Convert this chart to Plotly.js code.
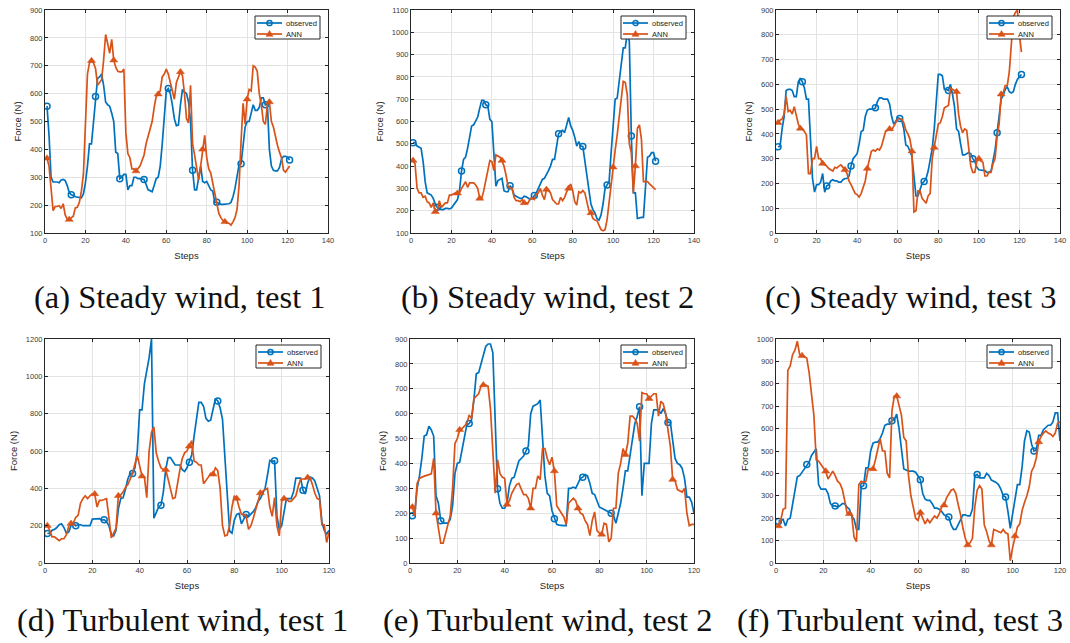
<!DOCTYPE html>
<html>
<head>
<meta charset="utf-8">
<script src="https://cdn.plot.ly/plotly-3.0.1.min.js"></script>
<style>
html,body{margin:0;padding:0;background:#fff;}
#chart{width:1070px;height:643px;}
</style>
</head>
<body>
<div id="chart"></div>
<script>
// ---------- Data (Force in N, per step) ----------
const seriesNames = ["observed", "ANN"];
const captions = [
  "(a) Steady wind, test 1", "(b) Steady wind, test 2", "(c) Steady wind, test 3",
  "(d) Turbulent wind, test 1", "(e) Turbulent wind, test 2", "(f) Turbulent wind, test 3"
];

const obsA = [555,450,300,283,283,283,280,290,292,288,270,245,237,235,230,228,226,226,240,280,340,420,420,500,590,655,660,670,630,570,560,555,530,500,390,385,295,300,310,310,255,270,270,300,300,295,295,293,292,275,255,252,248,270,295,300,340,420,520,610,618,600,560,510,485,487,560,615,605,600,570,500,325,255,255,300,340,285,280,285,270,255,250,210,210,205,203,203,203,203,205,210,230,260,300,345,348,420,480,500,500,530,560,540,540,550,585,585,560,565,400,340,325,323,323,335,365,375,375,372,362];
const annA = [368,340,260,180,195,195,198,188,205,165,150,148,155,160,190,192,210,250,310,480,670,710,718,710,690,630,640,650,720,812,780,745,795,720,695,680,678,678,688,460,385,370,330,330,322,330,340,360,380,420,450,480,500,550,590,598,610,660,670,688,670,640,610,580,640,660,678,665,600,510,495,630,420,380,330,290,340,400,450,370,330,315,280,240,200,170,155,145,140,135,135,128,140,155,185,270,430,565,490,580,615,610,700,695,680,600,560,500,490,560,570,500,480,440,415,390,370,325,318,330,340];

const obsB = [505,505,490,485,480,420,330,280,275,270,255,230,215,210,205,205,210,210,208,212,225,240,250,290,378,430,440,480,540,580,585,600,620,660,695,695,675,670,610,600,430,310,335,340,345,290,285,285,312,300,270,265,260,255,255,265,262,255,250,255,268,280,300,320,340,345,360,380,400,430,430,480,545,555,560,550,580,618,580,560,530,490,510,490,488,420,350,280,230,205,190,165,158,180,230,300,315,330,460,600,700,705,780,860,930,930,1000,960,535,280,280,165,168,170,170,310,440,445,460,460,422];
const annB = [425,410,300,280,280,260,265,240,235,215,235,195,200,245,215,225,235,235,270,270,275,280,278,280,300,315,330,305,325,325,325,315,300,255,255,290,330,375,425,420,380,450,445,440,425,400,360,310,300,300,260,245,245,240,250,235,235,235,255,255,250,275,280,300,270,250,295,290,280,250,240,230,230,260,245,260,285,300,320,290,240,225,285,280,290,280,240,200,190,165,158,155,135,115,110,115,160,240,330,395,470,540,620,700,780,775,720,500,460,280,400,570,585,520,330,330,330,320,310,300,295];

const obsC = [348,350,420,470,575,580,580,575,550,550,610,625,610,585,540,540,380,220,165,195,195,205,240,165,190,195,210,215,210,210,205,205,215,220,220,230,270,300,310,320,360,410,415,470,495,500,500,500,505,530,545,545,540,540,540,520,470,440,450,465,462,455,420,355,350,330,310,230,150,150,175,200,208,220,250,300,340,420,550,640,640,635,580,580,575,600,560,510,420,410,360,315,315,320,325,320,300,290,265,255,255,252,252,245,245,250,300,335,405,480,540,555,580,590,570,565,570,600,620,630,640];
const annC = [445,455,460,480,550,490,495,480,510,470,440,422,420,410,395,240,240,300,300,350,300,300,280,275,270,260,255,250,265,262,270,275,265,255,240,210,195,175,160,155,145,160,185,210,260,300,330,335,330,340,335,350,380,410,415,420,415,430,445,460,460,460,445,415,400,380,330,85,90,170,170,140,130,120,150,160,300,345,400,440,445,470,505,510,515,585,580,575,570,480,430,405,420,415,340,270,245,245,290,300,290,285,230,230,245,245,280,300,390,440,560,565,595,595,650,760,870,890,900,800,730];

const obsD = [158,160,175,180,190,205,210,190,160,165,200,210,200,205,205,200,200,200,200,235,235,235,238,230,232,220,200,155,145,175,290,345,350,395,450,480,480,510,600,820,820,960,1030,1100,1200,240,270,300,310,380,500,565,565,545,525,525,525,500,490,510,540,580,680,780,860,860,840,775,760,765,820,880,868,830,770,560,340,170,160,230,260,265,210,235,260,250,260,275,295,330,345,375,400,470,550,545,548,250,180,200,280,345,345,345,380,455,455,455,390,370,430,460,455,440,400,360,220,175,155,175];
const annD = [200,175,140,140,130,120,130,130,150,195,212,215,245,255,320,345,360,345,360,370,370,300,335,335,340,345,245,135,160,185,360,365,380,405,420,450,480,530,575,520,465,460,350,600,700,730,590,545,510,500,500,450,400,345,350,430,500,560,590,600,625,655,545,540,525,525,425,440,460,480,475,510,495,400,200,145,150,200,300,360,345,300,260,260,250,180,200,240,285,340,375,385,395,400,300,250,350,200,145,330,345,345,330,330,345,360,410,450,450,450,458,455,420,375,345,340,205,205,110,165];

const obsE = [190,195,300,350,420,510,515,550,535,510,270,240,170,160,160,160,175,230,360,400,405,460,500,555,560,575,655,760,765,800,840,870,880,880,845,580,298,240,220,220,240,310,340,345,380,410,420,430,450,470,600,630,635,640,655,500,350,280,270,210,178,155,152,150,150,150,300,300,305,300,320,340,345,355,350,320,280,275,250,225,220,215,212,208,200,190,160,200,240,300,370,370,430,500,560,590,628,270,400,400,400,560,615,615,615,600,620,600,565,565,490,420,400,395,380,340,265,265,245,200];
const annE = [225,190,320,340,345,350,352,355,358,420,200,140,80,80,120,160,190,300,480,500,535,540,550,560,595,580,660,670,680,710,715,715,710,620,450,280,415,360,345,340,235,250,280,300,315,320,300,275,275,260,220,300,300,350,335,460,460,420,395,425,370,230,215,200,185,155,240,250,260,250,220,200,195,170,155,110,170,205,130,120,115,160,155,85,100,220,220,360,400,460,435,480,590,590,580,560,490,685,680,680,660,670,680,680,590,650,640,600,530,470,335,330,295,290,285,300,200,150,155,155];

const obsF = [185,190,195,165,195,200,265,330,385,390,405,420,440,450,480,495,510,350,330,330,330,310,265,255,255,250,255,265,265,250,240,210,195,150,150,340,345,425,425,500,535,540,540,555,580,615,620,620,635,640,665,600,500,420,415,410,410,410,405,390,372,310,285,280,280,265,245,245,240,230,215,210,205,170,150,150,170,195,215,215,210,210,240,390,395,380,380,380,400,390,370,365,360,350,330,300,295,230,155,220,290,350,350,430,545,590,585,530,500,505,570,570,595,605,615,615,630,670,670,545];
const annF = [165,190,240,245,860,880,930,950,990,930,925,920,915,850,750,660,460,455,440,425,410,375,390,410,390,365,355,330,280,225,220,210,115,95,350,365,360,365,420,420,420,460,510,555,500,500,400,380,680,745,745,700,660,560,545,390,300,250,200,190,225,200,175,195,180,195,210,200,220,250,258,290,310,325,330,310,260,215,155,110,80,90,110,250,325,345,330,170,140,100,80,150,145,140,135,150,135,130,10,70,120,160,175,235,270,300,340,410,430,470,540,565,580,590,580,575,565,580,625,630];

const xRanges = [[0,140],[0,140],[0,140],[0,120],[0,120],[0,120]];
const yRanges = [[100,900],[100,1100],[0,900],[0,1200],[0,900],[0,1000]];
const yDticks = [100,100,100,200,100,100];

// ---------- Layout geometry (pixels) ----------
const W = 1070, H = 643;
const boxes = [
  {x0:45, x1:328, y0:10, y1:233},
  {x0:411, x1:694, y0:10, y1:233},
  {x0:776, x1:1060, y0:10, y1:233},
  {x0:45, x1:329, y0:339, y1:563},
  {x0:410, x1:694, y0:339, y1:563},
  {x0:776, x1:1060, y0:339, y1:563}
];
const captionPos = [[180,297],[547,297],[911,297],[182,620],[548,620],[900,620]];

const obs = [obsA, obsB, obsC, obsD, obsE, obsF];
const ann = [annA, annB, annC, annD, annE, annF];
const annStep = [11,11,11,10,10,10];
const obsStep = 12;

const BLUE = '#0072BD', ORANGE = '#D95319';
const AXC = '#262626';
const SANS = '"Liberation Sans", Arial, sans-serif';
const SERIF = '"Liberation Serif", "Times New Roman", serif';

function stepsOf(arr){ return arr.map((_, i) => i + 1); }
function markColors(arr, step, col){ return arr.map((_, i) => (i % step === 0) ? col : 'rgba(0,0,0,0)'); }

const traces = [];
const layout = {
  width: W, height: H,
  margin: {l:0, r:0, t:0, b:0},
  paper_bgcolor: '#ffffff', plot_bgcolor: '#ffffff',
  showlegend: false,
  font: {family: SANS, color: AXC},
  shapes: [], annotations: []
};

for (let k = 0; k < 6; k++) {
  const n = k === 0 ? '' : String(k + 1);
  const xa = 'x' + n, ya = 'y' + n;
  const b = boxes[k];
  const obsCol = markColors(obs[k], obsStep, BLUE);
  traces.push({
    x: stepsOf(obs[k]), y: obs[k], xaxis: xa, yaxis: ya,
    type: 'scatter', mode: 'lines+markers', name: seriesNames[0],
    line: {color: BLUE, width: 1.7},
    marker: {symbol: 'circle-open', size: 6, color: obsCol, line: {width: 1.5, color: obsCol}},
    cliponaxis: true, hoverinfo: 'x+y'
  });
  const annCol = markColors(ann[k], annStep[k], ORANGE);
  traces.push({
    x: stepsOf(ann[k]), y: ann[k], xaxis: xa, yaxis: ya,
    type: 'scatter', mode: 'lines+markers', name: seriesNames[1],
    line: {color: ORANGE, width: 1.7},
    marker: {symbol: 'triangle-up', size: 7, color: annCol, line: {width: 0.5, color: annCol}},
    cliponaxis: true, hoverinfo: 'x+y'
  });

  const axCommon = {
    showline: true, mirror: 'ticks', linecolor: AXC, linewidth: 1,
    ticks: 'inside', ticklen: 3, tickcolor: AXC, tickwidth: 1,
    showgrid: true, gridcolor: '#e3e3e3', gridwidth: 1,
    zeroline: false, automargin: false,
    tickfont: {size: 7.5, color: '#3a3a3a', family: SANS}
  };
  layout['xaxis' + n] = Object.assign({}, axCommon, {
    domain: [b.x0 / W, b.x1 / W], anchor: ya, range: xRanges[k], dtick: 20, tick0: 0,
    title: {text: 'Steps', font: {size: 9.5, color: AXC, family: SANS}, standoff: 8}
  });
  layout['yaxis' + n] = Object.assign({}, axCommon, {
    domain: [1 - b.y1 / H, 1 - b.y0 / H], anchor: xa, range: yRanges[k], dtick: yDticks[k], tick0: 0,
    title: {text: 'Force (N)', font: {size: 9.5, color: AXC, family: SANS}, standoff: 6}
  });

  // manual MATLAB-style legend (in axis-domain coordinates)
  const pw = b.x1 - b.x0, ph = b.y1 - b.y0;
  const lx0 = pw - 8 - 65, lx1 = pw - 8, ly0 = 6, ly1 = 29;
  const fx = p => p / pw, fy = p => 1 - p / ph;
  const xr = 'x' + n + ' domain', yr = 'y' + n + ' domain';
  layout.shapes.push({type:'rect', xref:xr, yref:yr, x0:fx(lx0), x1:fx(lx1), y0:fy(ly1), y1:fy(ly0),
    line:{color:AXC, width:1}, fillcolor:'#ffffff', layer:'above'});
  const rows = [ly0 + 7, ly0 + 18];
  const cols = [BLUE, ORANGE];
  for (let r = 0; r < 2; r++) {
    layout.shapes.push({type:'line', xref:xr, yref:yr, x0:fx(lx0 + 2), x1:fx(lx0 + 27), y0:fy(rows[r]), y1:fy(rows[r]),
      line:{color:cols[r], width:1.7}, layer:'above'});
    if (r === 0) {
      layout.shapes.push({type:'circle', xref:xr, yref:yr, xsizemode:'pixel', ysizemode:'pixel',
        xanchor:fx(lx0 + 14.5), yanchor:fy(rows[r]), x0:-2.6, x1:2.6, y0:-2.6, y1:2.6,
        line:{color:BLUE, width:1.5}, fillcolor:'rgba(0,0,0,0)', layer:'above'});
    } else {
      layout.shapes.push({type:'path', xref:xr, yref:yr, xsizemode:'pixel', ysizemode:'pixel',
        xanchor:fx(lx0 + 14.5), yanchor:fy(rows[r]), path:'M -3.5,-2.3 L 3.5,-2.3 L 0,3.6 Z',
        line:{color:ORANGE, width:0.5}, fillcolor:ORANGE, layer:'above'});
    }
    layout.annotations.push({xref:xr, yref:yr, x:fx(lx0 + 28.5), y:fy(rows[r]), xanchor:'left', yanchor:'middle',
      text: seriesNames[r], showarrow:false, font:{size:7.5, color:'#1a1a1a', family:SANS}});
  }

  // caption
  layout.annotations.push({xref:'paper', yref:'paper', x: captionPos[k][0] / W, y: 1 - captionPos[k][1] / H,
    xanchor:'center', yanchor:'middle', text: captions[k], showarrow:false,
    font:{size:32.5, color:'#111111', family:SERIF}});
}

Plotly.newPlot('chart', traces, layout, {staticPlot: true, displayModeBar: false});
</script>
</body>
</html>
